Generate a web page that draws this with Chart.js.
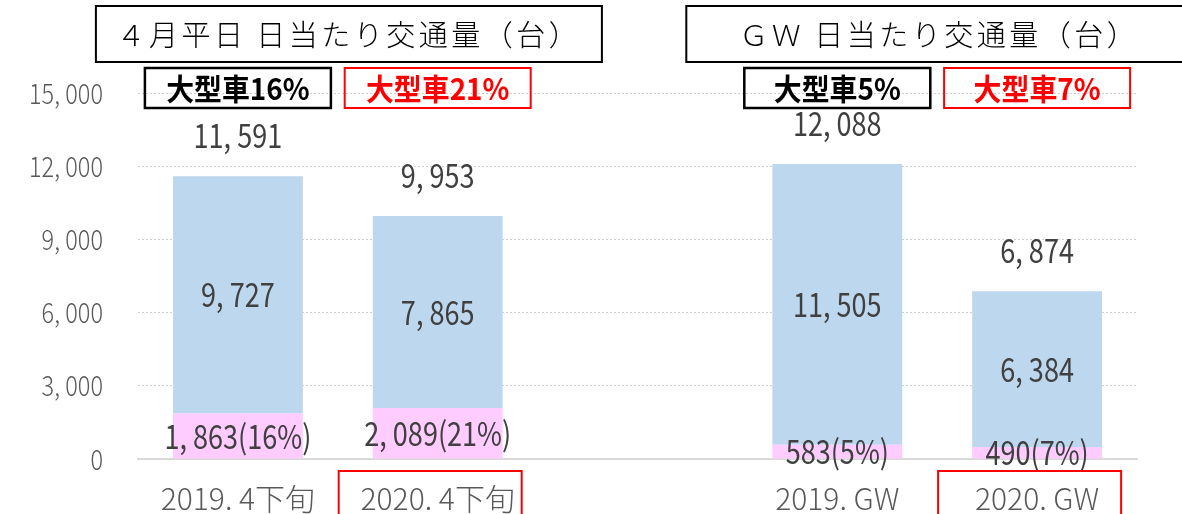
<!DOCTYPE html>
<html>
<head>
<meta charset="utf-8">
<script src="https://cdn.jsdelivr.net/npm/chart.js@4/dist/chart.umd.min.js"></script>
<style>
	body { margin: 0; background: #fff; }
</style>
</head>
<body>
<canvas id="trafficChart" width="1182" height="514"></canvas>
<script>
// 区分ラベル（中央は空欄の区切り）
const categories = ['2019. 4下旬', '2020. 4下旬', '', '2019. GW', '2020. GW'];
// 大型車（台）
const largeVehicles = [1863, 2089, null, 583, 490];
// 小型車（台）
const smallVehicles = [9727, 7865, null, 11505, 6384];
// 合計（台）
const totals = [11591, 9953, null, 12088, 6874];
// 大型車の割合（%）
const largeShares = [16, 21, null, 5, 7];
// 上部の見出し
const groupTitles = ['４月平日 日当たり交通量（台）', 'ＧＷ 日当たり交通量（台）'];
const yMax = 15000;
const yStep = 3000;

const jpFont = "'Noto Sans CJK JP', sans-serif";

function fmt(n) {
	return n.toLocaleString('en-US').replace(/,/g, ', ');
}

// 横に詰めた文字（細長いフォントの代わり）
function narrowText(ctx, text, x, y, sx) {
	ctx.save();
	ctx.translate(x, y);
	ctx.scale(sx, 1);
	ctx.fillText(text, 0, 0);
	ctx.restore();
}

function strokeBox(ctx, x, y, w, h, color, lw) {
	ctx.save();
	ctx.strokeStyle = color;
	ctx.lineWidth = lw;
	ctx.strokeRect(x, y, w, h);
	ctx.restore();
}

// 棒の中・上の数値、Y軸目盛
const valueLabelPlugin = {
	id: 'valueLabels',
	afterDatasetsDraw(chart) {
		const ctx = chart.ctx;
		ctx.save();
		ctx.font = `33px ${jpFont}`;
		ctx.fillStyle = '#404040';
		ctx.textAlign = 'center';
		ctx.textBaseline = 'middle';

		chart.getDatasetMeta(0).data.forEach((bar, i) => {
			if (largeVehicles[i] == null) return;
			const p = bar.getProps(['x', 'y', 'base'], true);
			narrowText(ctx, `${fmt(largeVehicles[i])}(${largeShares[i]}%)`, p.x, (p.y + p.base) / 2, 0.82);
		});

		chart.getDatasetMeta(1).data.forEach((bar, i) => {
			if (smallVehicles[i] == null) return;
			const p = bar.getProps(['x', 'y', 'base'], true);
			narrowText(ctx, fmt(smallVehicles[i]), p.x, (p.y + p.base) / 2, 0.82);
			narrowText(ctx, fmt(totals[i]), p.x, p.y - 41, 0.82);
		});

		// Y軸目盛
		const y = chart.scales.y;
		ctx.font = `300 28px ${jpFont}`;
		ctx.fillStyle = '#595959';
		ctx.textAlign = 'right';
		y.ticks.forEach((t, i) => {
			narrowText(ctx, fmt(t.value), 103, y.getPixelForTick(i), 0.84);
		});
		ctx.restore();
	}
};

// 見出し枠・大型車割合の枠・赤枠
const boxPlugin = {
	id: 'boxes',
	afterDraw(chart) {
		const ctx = chart.ctx;
		const x = chart.scales.x;
		ctx.save();

		// 見出し
		const titleLefts = [x.getPixelForValue(0) - 142, x.getPixelForValue(3) - 151];
		ctx.font = `300 29px ${jpFont}`;
		ctx.letterSpacing = '3.5px';
		ctx.textAlign = 'center';
		ctx.textBaseline = 'middle';
		ctx.fillStyle = '#000';
		titleLefts.forEach((left, g) => {
			strokeBox(ctx, left, 6, 506, 56, '#000', 2);
			ctx.fillText(groupTitles[g], left + 253, 35);
		});
		ctx.letterSpacing = '0px';

		// 大型車割合
		ctx.font = `bold 30px ${jpFont}`;
		categories.forEach((c, i) => {
			if (largeShares[i] == null) return;
			const cx = x.getPixelForValue(i);
			const color = (i % 3 === 0) ? '#000' : '#ff0000';
			strokeBox(ctx, cx - 93, 68, 186, 40, color, color === '#000' ? 2.5 : 2);
			ctx.fillStyle = color;
			narrowText(ctx, `大型車${largeShares[i]}%`, cx, 89, 0.93);
		});

		// 2020年の区分ラベルの赤枠
		[1, 4].forEach(i => {
			const cx = x.getPixelForValue(i);
			strokeBox(ctx, cx - 99, 471, 183, 60, '#ff0000', 2);
		});
		ctx.restore();
	}
};

new Chart(document.querySelector('#trafficChart'), {
	type: 'bar',
	data: {
		labels: categories,
		datasets: [{
			label: '大型車',
			data: largeVehicles,
			backgroundColor: '#ffccff',
			borderWidth: 0
		}, {
			label: '小型車',
			data: smallVehicles,
			backgroundColor: '#bdd7ee',
			borderWidth: 0
		}]
	},
	options: {
		responsive: false,
		animation: false,
		barPercentage: 0.65,
		categoryPercentage: 1.0,
		layout: {
			padding: { top: 93, right: 45, left: 0, bottom: 0 }
		},
		plugins: {
			legend: { display: false },
			tooltip: { enabled: false }
		},
		scales: {
			x: {
				stacked: true,
				grid: { display: false },
				border: { display: true, color: '#d9d9d9', width: 2 },
				ticks: {
					color: '#595959',
					font: { family: jpFont, size: 30, weight: 300 },
					padding: 14,
					maxRotation: 0
				},
				afterFit(scale) { scale.height = 55; }
			},
			y: {
				stacked: true,
				min: 0,
				max: yMax,
				grid: {
					color: c => c.tick.value === 0 ? 'rgba(0,0,0,0)' : '#cfcfcf',
					drawTicks: false
				},
				border: { display: false, dash: [2, 2] },
				ticks: {
					stepSize: yStep,
					display: false
				},
				afterFit(scale) { scale.width = 138; }
			}
		}
	},
	plugins: [valueLabelPlugin, boxPlugin]
});
</script>
</body>
</html>
